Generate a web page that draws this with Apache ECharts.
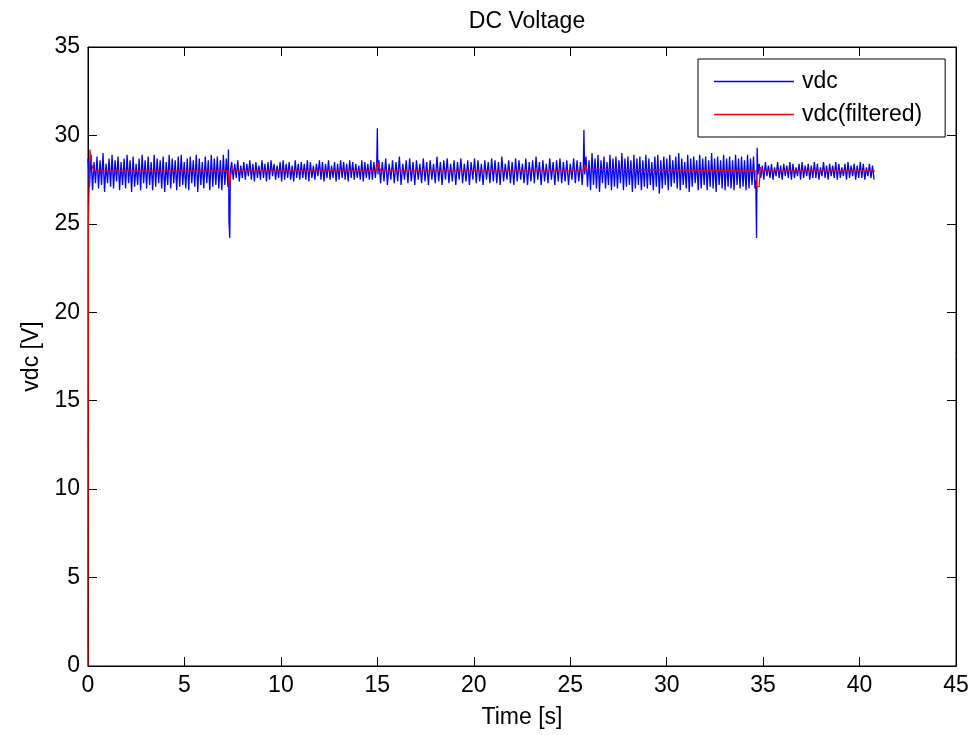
<!DOCTYPE html>
<html>
<head>
<meta charset="utf-8">
<script src="https://cdn.jsdelivr.net/npm/echarts@6/dist/echarts.min.js"></script>
<style>
html,body{margin:0;padding:0;background:#fff;}
#chart{width:978px;height:735px;}
</style>
</head>
<body>
<div id="chart"></div>
<script>
// ---- data ----
const xTicks = [0, 5, 10, 15, 20, 25, 30, 35, 40, 45];
const yTicks = [0, 5, 10, 15, 20, 25, 30, 35];

// blue raw signal, sampled segments: [start time, end time], values alternate peak / trough
const segA = [0.0, 7.25];
const vdcA = [
28.7,27.1, 28.9,26.9, 28.5,27.3, 28.8,27.0, 28.6,27.2, 29.0,26.8, 28.4,27.3, 28.7,27.1,
28.9,27.0, 28.6,27.4, 28.8,26.9, 28.5,27.2, 28.7,27.0, 28.9,27.3, 28.6,26.8, 28.8,27.1,
28.4,27.2, 28.7,26.9, 28.9,27.3, 28.6,27.0, 28.8,27.2, 28.5,26.9, 28.9,27.1, 28.7,27.3,
28.6,27.0, 28.8,26.8, 28.5,27.2, 28.9,27.0, 28.7,27.3, 28.6,26.9, 28.8,27.1, 28.9,27.2,
28.5,27.0, 28.7,26.9, 28.8,27.3, 28.6,27.1, 28.9,26.8, 28.7,27.2, 28.5,27.0, 28.8,27.3,
28.6,26.9, 28.9,27.1, 28.7,27.2, 28.8,27.0, 28.6,26.9, 28.9,27.2, 28.7,27.1];
const segB = [7.45, 14.9];
const vdcB = [
28.5,27.5, 28.4,27.6, 28.6,27.4, 28.3,27.6, 28.5,27.5, 28.4,27.7, 28.6,27.5, 28.4,27.4,
28.5,27.6, 28.3,27.5, 28.6,27.6, 28.4,27.4, 28.5,27.5, 28.6,27.7, 28.4,27.5, 28.3,27.6,
28.5,27.4, 28.6,27.5, 28.4,27.6, 28.5,27.5, 28.3,27.4, 28.6,27.6, 28.4,27.5, 28.5,27.6,
28.4,27.5, 28.6,27.4, 28.5,27.6, 28.3,27.5, 28.4,27.7, 28.6,27.5, 28.5,27.4, 28.4,27.6,
28.6,27.5, 28.3,27.6, 28.5,27.4, 28.4,27.5, 28.6,27.6, 28.5,27.5, 28.4,27.4, 28.6,27.6,
28.5,27.5, 28.4,27.6, 28.3,27.5, 28.6,27.4, 28.5,27.6, 28.4,27.5, 28.6,27.5, 28.5,27.6];
const segC = [15.08, 25.62];
const vdcC = [
28.6,27.3, 28.5,27.4, 28.7,27.2, 28.4,27.5, 28.6,27.3, 28.5,27.4, 28.8,27.2, 28.4,27.5,
28.6,27.3, 28.7,27.4, 28.5,27.2, 28.6,27.5, 28.4,27.3, 28.7,27.4, 28.5,27.2, 28.6,27.5,
28.4,27.3, 28.8,27.4, 28.5,27.2, 28.6,27.5, 28.7,27.3, 28.4,27.4, 28.6,27.2, 28.5,27.5,
28.7,27.3, 28.4,27.4, 28.6,27.2, 28.5,27.5, 28.7,27.3, 28.6,27.4, 28.4,27.2, 28.6,27.5,
28.5,27.3, 28.7,27.4, 28.6,27.3, 28.5,27.2, 28.8,27.4, 28.4,27.5, 28.6,27.3, 28.5,27.2,
28.7,27.4, 28.6,27.5, 28.4,27.3, 28.7,27.2, 28.5,27.4, 28.6,27.3, 28.8,27.5, 28.5,27.2,
28.6,27.4, 28.4,27.3, 28.7,27.5, 28.5,27.2, 28.6,27.4, 28.7,27.3, 28.5,27.4, 28.6,27.2,
28.4,27.5, 28.7,27.3, 28.6,27.4, 28.5,27.2];
const segD = [25.82, 34.58];
const vdcD = [
28.8,27.1, 28.6,26.9, 29.0,27.2, 28.7,27.0, 28.9,26.8, 28.6,27.3, 28.8,27.0, 28.5,27.2,
28.9,26.9, 28.7,27.1, 28.8,27.0, 28.6,27.3, 29.0,26.9, 28.7,27.1, 28.8,27.2, 28.6,26.8,
28.9,27.0, 28.7,27.2, 28.8,26.9, 28.6,27.1, 28.9,27.0, 28.7,27.2, 28.5,26.9, 28.8,27.1,
28.9,26.7, 28.6,27.0, 28.8,27.2, 28.7,26.9, 28.9,27.1, 28.6,27.3, 28.8,27.0, 29.0,26.9,
28.7,27.2, 28.5,27.0, 28.9,26.8, 28.7,27.1, 28.8,27.3, 28.6,26.9, 28.9,27.0, 28.7,27.2,
28.8,26.9, 28.6,27.1, 29.0,27.0, 28.7,26.8, 28.8,27.2, 28.6,27.0, 28.9,26.9, 28.7,27.1,
28.8,27.0, 28.6,26.9, 28.9,27.2, 28.7,27.0, 28.8,27.1, 28.6,26.9, 28.9,27.0, 28.7,27.2,
28.8,27.0];
const segE = [34.8, 40.75];
const vdcE = [
28.4,27.6, 28.3,27.5, 28.5,27.7, 28.3,27.6, 28.4,27.5, 28.2,27.7, 28.5,27.6, 28.3,27.5,
28.4,27.7, 28.3,27.6, 28.5,27.5, 28.4,27.6, 28.2,27.7, 28.4,27.5, 28.5,27.6, 28.3,27.7,
28.4,27.5, 28.3,27.6, 28.5,27.6, 28.4,27.5, 28.2,27.7, 28.5,27.6, 28.3,27.5, 28.4,27.7,
28.3,27.6, 28.5,27.5, 28.4,27.6, 28.2,27.7, 28.4,27.5, 28.5,27.6, 28.3,27.7, 28.4,27.5,
28.3,27.6, 28.5,27.6, 28.4,27.5, 28.2,27.7, 28.4,27.6, 28.3,27.5];
// blue transients [t, v]
const vdcSpikes = [[7.28,29.2],[7.31,25.1],[7.33,25.0],[7.35,24.2],[7.38,28.0],
  [14.97,28.5],[15.0,30.4],[15.03,27.8],
  [25.68,28.3],[25.71,30.3],[25.75,27.8],
  [34.62,27.5],[34.66,24.2],[34.69,29.3],[34.73,27.8]];

// red filtered signal [t, v]
const vdcFiltered = [[0,0],[0.02,25.0],[0.1,29.2],[0.2,28.3],[0.3,28.0],
  [7.28,28.0],[7.32,27.1],[7.42,27.1],[7.47,28.2],[7.55,28.0],
  [14.95,28.0],[15.0,28.5],[15.1,28.5],[15.17,28.0],
  [25.7,28.0],[25.75,28.35],[25.85,28.1],[25.95,28.0],
  [34.62,28.0],[34.66,27.1],[34.8,27.1],[34.85,28.2],[34.95,28.0],
  [40.8,28.0]];

// ---- build ----
function sampled(seg, vals){
  const n = vals.length, out = [];
  for (let i = 0; i < n; i++) out.push([seg[0] + (seg[1]-seg[0]) * i / (n-1), vals[i]]);
  return out;
}
const vdcData = [].concat(sampled(segA, vdcA), sampled(segB, vdcB), sampled(segC, vdcC),
  sampled(segD, vdcD), sampled(segE, vdcE), vdcSpikes).sort((a,b)=>a[0]-b[0]);

const FONT = 'Liberation Sans';
const FS = 23;
const chart = echarts.init(document.getElementById('chart'));
const axisCommon = {
  axisLine: {show: true, onZero: false, lineStyle: {color: '#000', width: 1}},
  axisTick: {show: true, inside: true, length: 9, lineStyle: {color: '#000'}},
  splitLine: {show: false}
};
chart.setOption({
  animation: false,
  backgroundColor: '#fff',
  title: {text: 'DC Voltage', left: 522, textAlign: 'center', top: 5,
    textStyle: {fontFamily: FONT, fontSize: FS, fontWeight: 'normal', color: '#000'}},
  legend: {
    orient: 'vertical', left: 698, top: 59,
    data: ['vdc', 'vdc(filtered)'],
    icon: 'rect', itemWidth: 80, itemHeight: 1.5, itemGap: 10,
    padding: [11, 23, 11, 16],
    borderColor: '#000', borderWidth: 1, backgroundColor: '#fff',
    textStyle: {fontFamily: FONT, fontSize: FS, color: '#000', padding: [0, 0, 0, 3]}
  },
  grid: {left: 88, right: 22, top: 47, bottom: 69, containLabel: false,
    show: true, borderColor: '#000', borderWidth: 1, backgroundColor: 'transparent'},
  xAxis: [
    Object.assign({type: 'value', min: 0, max: 45, interval: 5, position: 'bottom',
      name: 'Time [s]', nameLocation: 'middle', nameGap: 40,
      nameTextStyle: {fontFamily: FONT, fontSize: FS, color: '#000'},
      axisLabel: {fontFamily: FONT, fontSize: FS, color: '#000', margin: 8}}, axisCommon),
    Object.assign({type: 'value', min: 0, max: 45, interval: 5, position: 'top',
      axisLabel: {show: false}}, axisCommon)
  ],
  yAxis: [
    Object.assign({type: 'value', min: 0, max: 35, interval: 5, position: 'left',
      name: 'vdc [V]', nameLocation: 'middle', nameGap: 43, nameRotate: 90,
      nameTextStyle: {fontFamily: FONT, fontSize: FS, color: '#000'},
      axisLabel: {fontFamily: FONT, fontSize: FS, color: '#000', margin: 8}}, axisCommon),
    Object.assign({type: 'value', min: 0, max: 35, interval: 5, position: 'right',
      axisLabel: {show: false}}, axisCommon)
  ],
  series: [
    {name: 'vdc', type: 'line', data: vdcData, showSymbol: false, symbol: 'none',
      lineStyle: {color: '#0000ff', width: 1.3}, itemStyle: {color: '#0000ff'}},
    {name: 'vdc(filtered)', type: 'line', data: vdcFiltered, showSymbol: false, symbol: 'none',
      lineStyle: {color: '#ff0000', width: 1.2}, itemStyle: {color: '#ff0000'}},
    {name: 'mirror', type: 'line', data: [], xAxisIndex: 1, yAxisIndex: 1, silent: true}
  ]
});
</script>
</body>
</html>
